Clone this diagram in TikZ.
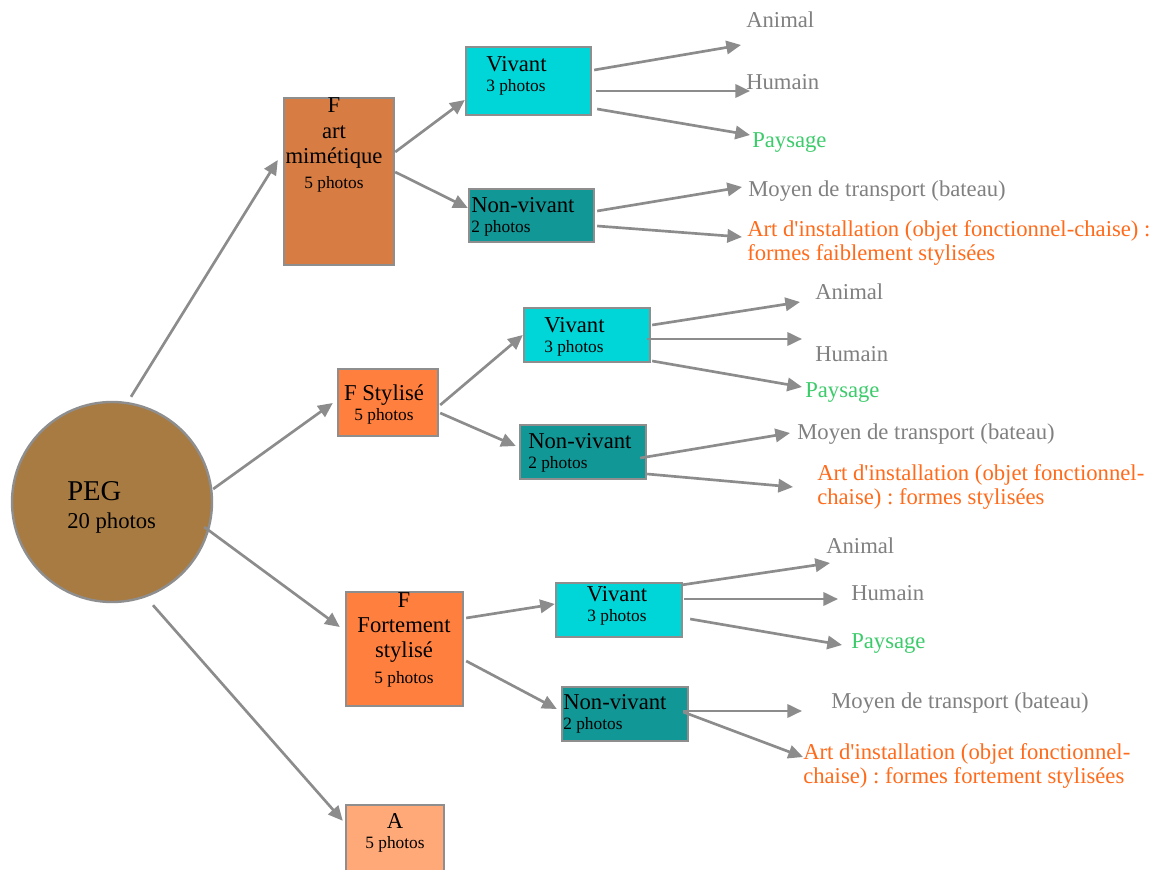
\documentclass[tikz,border=0pt]{standalone}
\usepackage{fontspec}
\setmainfont{Liberation Serif}
\usetikzlibrary{arrows.meta,calc}
\definecolor{pegc}{HTML}{A87B42}
\definecolor{artc}{HTML}{D77C43}
\definecolor{stylc}{HTML}{FF7F3F}
\definecolor{ac}{HTML}{FFA978}
\definecolor{vivc}{HTML}{00D5D8}
\definecolor{nvivc}{HTML}{129797}
\definecolor{bordergray}{HTML}{8E8E8E}
\definecolor{linegray}{HTML}{8C8C8C}
\definecolor{labgray}{HTML}{808080}
\definecolor{labgreen}{HTML}{3CCB6B}
\definecolor{laborange}{HTML}{FF6B1A}
\newcommand\sq{\textquotesingle}
\newcommand\cnt{\fontsize{13}{15}\selectfont}
\frenchspacing
\begin{document}
\begin{tikzpicture}[x=0.75pt,y=-0.75pt,
  arr/.style={draw=linegray, line width=2pt, -{Triangle[length=11pt,width=10pt]}},
  box/.style={draw=bordergray, line width=1.8pt, inner sep=0pt, rectangle},
  sz/.style 2 args={minimum width=#1*0.75pt, minimum height=#2*0.75pt},
  txt/.style={inner sep=0pt, text=black},
  ttl/.style={txt, font=\fontsize{17}{15}\selectfont},
  ttlb/.style={txt, font=\fontsize{17}{19}\selectfont},
  leaf/.style={inner sep=0pt, anchor=base west, font=\fontsize{17}{18}\selectfont},
  gl/.style={leaf, text=labgray},
  gr/.style={leaf, text=labgreen},
  og/.style={leaf, text=laborange, align=left},
]
\clip (0,0) rectangle (1158,870);
\fill[white] (0,0) rectangle (1158,870);

% main nodes
\node[box, circle, fill=pegc, minimum size=200*0.75pt] (peg) at (112,502) {};
\node[box, fill=artc, sz={110}{167}] (b1) at (339,181.5) {};
\node[box, fill=stylc, sz={100}{67}] (b2) at (388,402.5) {};
\node[box, fill=stylc, sz={117}{114}] (b3) at (404.5,649) {};
\node[box, fill=ac, sz={98}{80}] (bA) at (395,845) {};
\node[box, fill=vivc, sz={125}{68}] (v1) at (528.5,81) {};
\node[box, fill=nvivc, sz={125}{53}] (n1) at (531.5,215.5) {};
\node[box, fill=vivc, sz={126}{54}] (v2) at (587,335) {};
\node[box, fill=nvivc, sz={126}{54}] (n2) at (583,452) {};
\node[box, fill=vivc, sz={126}{54}] (v3) at (619,610) {};
\node[box, fill=nvivc, sz={126}{54}] (n3) at (625,714) {};

% texts inside (base = baseline of last line)
\node[txt, anchor=base west, align=left, font=\fontsize{21.5}{21}\selectfont] (pegt) at (67,528.5) {PEG\\\fontsize{17}{21}\selectfont 20 photos};
\node[ttlb, anchor=base, align=center] (b1t) at (334,189) {F\\art\\mimétique\\\fontsize{13}{17}\selectfont 5 photos};
\node[ttl, anchor=base, align=center] (b2t) at (384,421) {F Stylisé\\\cnt 5 photos};
\node[ttlb, anchor=base, align=center] (b3t) at (404,683) {F\\Fortement\\stylisé\\\cnt 5 photos};
\node[ttl, anchor=base, align=center] (bAt) at (395,848) {A\\\cnt 5 photos};
\node[ttl, anchor=base west, align=left] (v1t) at (486,92) {Vivant\\\cnt 3 photos};
\node[ttl, anchor=base west, align=left] (n1t) at (471,233) {Non-vivant\\\cnt 2 photos};
\node[ttl, anchor=base west, align=left] (v2t) at (544,353) {Vivant\\\cnt 3 photos};
\node[ttl, anchor=base west, align=left] (n2t) at (528,468) {Non-vivant\\\cnt 2 photos};
\node[ttl, anchor=base, align=center] (v3t) at (617,621) {Vivant\\\cnt 3 photos};
\node[ttl, anchor=base west, align=left] (n3t) at (563,729) {Non-vivant\\\fontsize{13}{17}\selectfont 2 photos};

% leaf labels
\node[gl] (a1) at (746,27.5) {Animal};
\node[gl] (h1) at (746,89.5) {Humain};
\node[gr] (p1) at (752,148) {Paysage};
\node[gl] (m1) at (748,197) {Moyen de transport (bateau)};
\node[og] (o1) at (747,260.5) {Art d\sq installation (objet fonctionnel-chaise) :\\formes faiblement stylisées};

\node[gl] (a2) at (815,299.5) {Animal};
\node[gl] (h2) at (815,361.5) {Humain};
\node[gr] (p2) at (805,397.5) {Paysage};
\node[gl] (m2) at (797,439.5) {Moyen de transport (bateau)};
\node[og] (o2) at (817,504.5) {Art d\sq installation (objet fonctionnel-\\chaise) : formes stylisées};

\node[gl] (a3) at (826,553.5) {Animal};
\node[gl] (h3) at (851,600.5) {Humain};
\node[gr] (p3) at (851,648.5) {Paysage};
\node[gl] (m3) at (831,708.5) {Moyen de transport (bateau)};
\node[og] (o3) at (803,783.5) {Art d\sq installation (objet fonctionnel-\\chaise) : formes fortement stylisées};

% connectors from PEG
\draw[arr] ($(peg.north)+(19,-4)$) -- ($(b1.west)+(-5,-21.5)$);
\draw[arr] ($(peg.east)+(0,-13)$) -- ($(b2.west)+(-4,0.5)$);
\draw[arr] ($(peg.east)+(-9,25)$) -- ($(b3.west)+(-5,-22)$);
\draw[arr] ($(peg.south)+(41,2)$) -- ($(bA.north west)+(-2,17)$);

% level 2
\draw[arr] ($(b1.east)+(0,-29.5)$) -- ($(v1.west)+(0,19)$);
\draw[arr] ($(b1.east)+(0,-9.5)$) -- ($(n1.west)+(0,-7.5)$);
\draw[arr] ($(b2.east)+(1,2.5)$) -- ($(v2.west)+(0,0)$);
\draw[arr] ($(b2.east)+(1,10.5)$) -- ($(n2.west)+(-3,-6)$);
\draw[arr] ($(b3.east)+(2,-31)$) -- ($(v3.west)+(0,-6)$);
\draw[arr] ($(b3.east)+(2,12)$) -- ($(n3.west)+(-4,-5)$);

% level 3 - group 1
\draw[arr] ($(v1.east)+(2,-11)$) -- ($(a1.base west)+(-5,17.5)$);
\draw[arr] ($(v1.east)+(4,10)$) -- ($(h1.base west)+(4,1.5)$);
\draw[arr] ($(v1.east)+(5,28)$) -- ($(p1.base west)+(-2,-13)$);
\draw[arr] ($(n1.east)+(2,-4.5)$) -- ($(m1.base west)+(-6,-10)$);
\draw[arr] ($(n1.east)+(2,10.5)$) -- ($(o1.base west)+(-5,-23.5)$);
% group 2
\draw[arr] ($(v2.east)+(1,-10)$) -- ($(a2.base west)+(-15,2.5)$);
\draw[arr] ($(v2.east)+(-4,4)$) -- ($(h2.base west)+(-13,-22.5)$);
\draw[arr] ($(v2.east)+(1,26)$) -- ($(p2.base west)+(-3,-10.5)$);
\draw[arr] ($(n2.east)+(-7,6)$) -- ($(m2.base west)+(-7,-6.5)$);
\draw[arr] ($(n2.east)+(0,22)$) -- ($(o2.base west)+(-24,-17.5)$);
% group 3
\draw[arr] ($(v3.east)+(-2,-25)$) -- ($(a3.base west)+(4,9.5)$);
\draw[arr] ($(v3.east)+(1,-11)$) -- ($(h3.base west)+(-13,-1.5)$);
\draw[arr] ($(v3.east)+(7,9)$) -- ($(p3.base west)+(-9,-3.5)$);
\draw[arr] ($(n3.east)+(-6,-3)$) -- ($(m3.base west)+(-29,2.5)$);
\draw[arr] ($(n3.east)+(-6,-2)$) -- ($(o3.base west)+(0,-26.5)$);
\end{tikzpicture}
\end{document}
